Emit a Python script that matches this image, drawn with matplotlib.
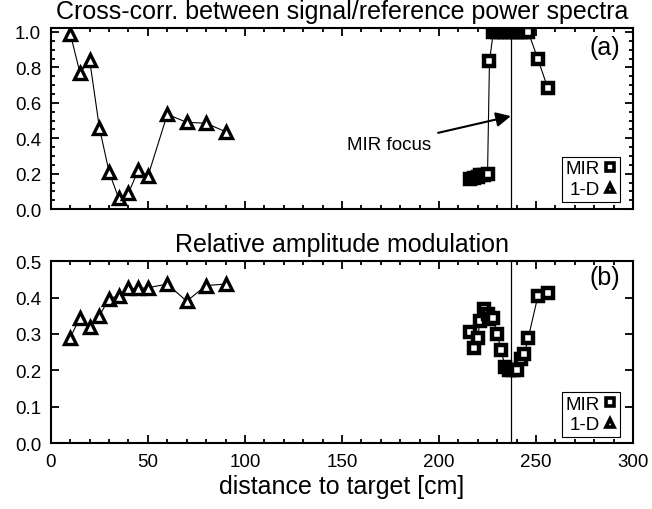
import matplotlib
matplotlib.use('Agg')
import matplotlib.pyplot as plt
from matplotlib.ticker import MultipleLocator

plt.rcParams['font.family'] = ['Liberation Sans', 'DejaVu Sans']

# 1-D data (triangles)
x_1d = [10, 15, 20, 25, 30, 35, 40, 45, 50, 60, 70, 80, 90]
corr_1d = [0.99, 0.77, 0.84, 0.46, 0.21, 0.06, 0.09, 0.22, 0.185, 0.535, 0.49, 0.485, 0.437]
amp_1d = [0.29, 0.345, 0.318, 0.35, 0.397, 0.405, 0.425, 0.425, 0.427, 0.437, 0.39, 0.433, 0.437]

# MIR data (squares)
x_mir = [216, 218, 220, 221, 223, 225, 226, 228, 230, 232, 234, 236, 238, 240, 242, 244, 246, 251, 256]
corr_mir = [0.17, 0.175, 0.18, 0.19, 0.195, 0.20, 0.835, 1.0, 1.0, 1.0, 1.0, 1.0, 1.0, 1.0, 1.0, 1.0, 1.0, 0.845, 0.685]
amp_mir = [0.305, 0.262, 0.288, 0.336, 0.368, 0.355, 0.34, 0.345, 0.30, 0.256, 0.21, 0.20, 0.20, 0.20, 0.23, 0.245, 0.29, 0.405, 0.413]

mir_focus = 237

fig = plt.figure(figsize=(6.52, 5.10), dpi=100)
ax1 = fig.add_axes([0.078, 0.588, 0.893, 0.355])
ax2 = fig.add_axes([0.078, 0.129, 0.893, 0.357])

sq = dict(marker='s', ms=7, mew=3.2, mfc='white', mec='black', color='black', lw=0.8)
tri = dict(marker='^', ms=9, mew=2.4, mfc='white', mec='black', color='black', lw=0.8)

for ax, ymir, y1d, leg_y in [(ax1, corr_mir, corr_1d, 0.039), (ax2, amp_mir, amp_1d, 0.033)]:
    ax.plot(x_mir, ymir, label='MIR', **sq)
    ax.plot(x_1d, y1d, label='1-D', **tri)
    ax.axvline(mir_focus, color='black', lw=0.9, zorder=0)
    ax.set_xlim(0, 300)
    ax.xaxis.set_major_locator(MultipleLocator(50))
    ax.xaxis.set_minor_locator(MultipleLocator(10))
    for s in ax.spines.values():
        s.set_linewidth(1.5)
    ax.tick_params(which='both', direction='in', top=True, right=True,
                   labelsize=13.5, width=1.3, pad=7)
    ax.tick_params(which='major', length=6)
    ax.tick_params(which='minor', length=3)
    leg = ax.legend(loc='lower right', bbox_to_anchor=(0.978, leg_y),
                    markerfirst=False, fontsize=13.5,
                    handlelength=0.7, handletextpad=0.2, borderpad=0.2,
                    labelspacing=0.2, fancybox=False, framealpha=1,
                    borderaxespad=0)
    leg.get_frame().set_edgecolor('black')
    leg.get_frame().set_linewidth(0.8)
    for h in leg.legend_handles:
        h.set_linestyle('none')
        h.set_markersize(6)
        h.set_markeredgewidth(2.6)

ax1.set_ylim(0, 1.022)
ax1.yaxis.set_major_locator(MultipleLocator(0.2))
ax1.yaxis.set_minor_locator(MultipleLocator(0.05))
ax1.set_xticklabels([])
ax1.set_yticklabels(['%.1f' % v for v in ax1.get_yticks()])
ax1.set_title('Cross-corr. between signal/reference power spectra', fontsize=18, pad=7.5)
ax1.text(0.978, 0.895, '(a)', transform=ax1.transAxes, ha='right', va='center', fontsize=18)
ax1.annotate('MIR focus', xy=(mir_focus, 0.525), xytext=(196, 0.367),
             ha='right', va='center', fontsize=13.5,
             arrowprops=dict(arrowstyle='-|>', color='black', lw=1.5,
                             mutation_scale=22, shrinkA=3, shrinkB=0))

ax2.set_ylim(0, 0.5)
ax2.yaxis.set_major_locator(MultipleLocator(0.1))
ax2.yaxis.set_minor_locator(plt.NullLocator())
ax2.set_yticklabels(['%.1f' % v for v in ax2.get_yticks()])
ax2.set_title('Relative amplitude modulation', fontsize=18, pad=7.5)
ax2.text(0.978, 0.912, '(b)', transform=ax2.transAxes, ha='right', va='center', fontsize=18)
ax2.set_xlabel('distance to target [cm]', fontsize=18, labelpad=3)

fig.savefig('out.png', dpi=100)
